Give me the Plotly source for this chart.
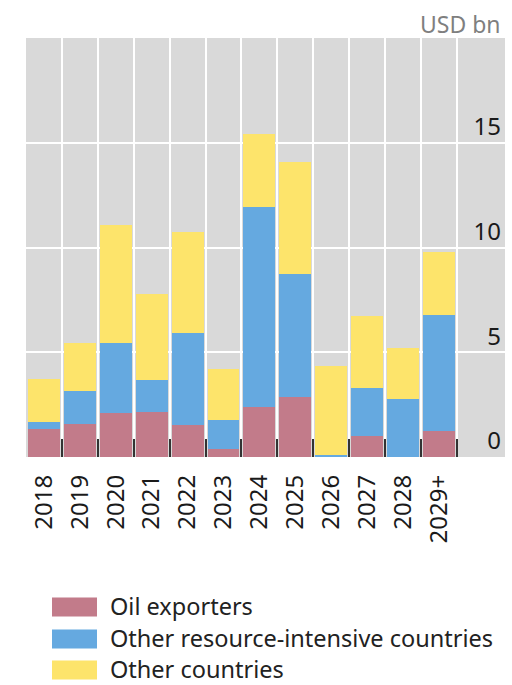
import plotly.graph_objects as go

# Categories and stacked series (USD bn)
years = ["2018", "2019", "2020", "2021", "2022", "2023",
         "2024", "2025", "2026", "2027", "2028", "2029+"]
oil_exporters = [1.35, 1.59, 2.11, 2.14, 1.51, 0.39, 2.38, 2.86, 0.0, 0.98, 0.0, 1.22]
other_resource = [0.32, 1.56, 3.34, 1.52, 4.41, 1.36, 9.57, 5.87, 0.1, 2.31, 2.75, 5.58]
other_countries = [2.07, 2.27, 5.63, 4.12, 4.81, 2.44, 3.47, 5.35, 4.24, 3.43, 2.47, 3.00]

series_names = ["Oil exporters", "Other resource-intensive countries", "Other countries"]
series_values = [oil_exporters, other_resource, other_countries]
series_colors = ["#c27b8a", "#65a9e0", "#fde46b"]

y_ticks = [0, 5, 10, 15]
unit_label = "USD bn"

FONT = "Noto Sans"
W, H = 512, 685
M_L, M_R, M_T, M_B = 26, 7, 38, 228

fig = go.Figure()
for name, vals, col in zip(series_names, series_values, series_colors):
    fig.add_trace(go.Bar(x=years, y=vals, name=name, marker_color=col,
                         marker_line_width=0, showlegend=False))

plot_w = W - M_L - M_R
plot_h = H - M_T - M_B


def px_to_paper(px, py):
    return (px - M_L) / plot_w, (H - M_B - py) / plot_h


# Hand-drawn legend: wide swatches with labels below the chart
legend_rows_y = [607, 639, 670]
shapes = []
annotations = []
for name, col, ry in zip(series_names, series_colors, legend_rows_y):
    x0, y0 = px_to_paper(52, ry + 9.5)
    x1, y1 = px_to_paper(97, ry - 9.5)
    shapes.append(dict(type="rect", xref="paper", yref="paper",
                       x0=x0, x1=x1, y0=y0, y1=y1,
                       fillcolor=col, line_width=0))
    tx, ty = px_to_paper(108, ry - 1)
    annotations.append(dict(text=name, xref="paper", yref="paper", x=tx, y=ty,
                            xanchor="left", yanchor="middle", showarrow=False,
                            font=dict(family=FONT, size=23.5, color="#222222")))

ux, uy = px_to_paper(503, 23.5)
annotations.append(dict(text=unit_label, xref="paper", yref="paper", x=ux, y=uy,
                        xanchor="right", yanchor="middle", showarrow=False,
                        font=dict(family=FONT, size=23, color="#7f7f7f")))

fig.update_layout(
    width=W, height=H,
    margin=dict(l=M_L, r=M_R, t=M_T, b=M_B, pad=0),
    paper_bgcolor="white",
    plot_bgcolor="#d9d9d9",
    barmode="stack",
    bargap=0.11,
    shapes=shapes,
    annotations=annotations,
    font=dict(family=FONT, color="#1a1a1a"),
)

fig.update_xaxes(
    type="category",
    range=[-0.5, 12.84],
    tickson="boundaries",
    ticks="inside", ticklen=18, tickwidth=2, tickcolor="#333333",
    showgrid=True, gridcolor="white", gridwidth=2,
    tickangle=-90,
    ticklabelstandoff=12,
    tickfont=dict(family=FONT, size=24, color="#1a1a1a"),
    showline=False, zeroline=False,
)

fig.update_yaxes(
    range=[0, 20],
    side="right",
    tickvals=y_ticks,
    ticklabelposition="inside",
    ticklabelshift=-16,
    ticklabelstandoff=1,
    ticks="",
    showgrid=True, gridcolor="white", gridwidth=2,
    zeroline=False, showline=False,
    tickfont=dict(family=FONT, size=24, color="#1a1a1a"),
)

fig.write_html("out.html")
